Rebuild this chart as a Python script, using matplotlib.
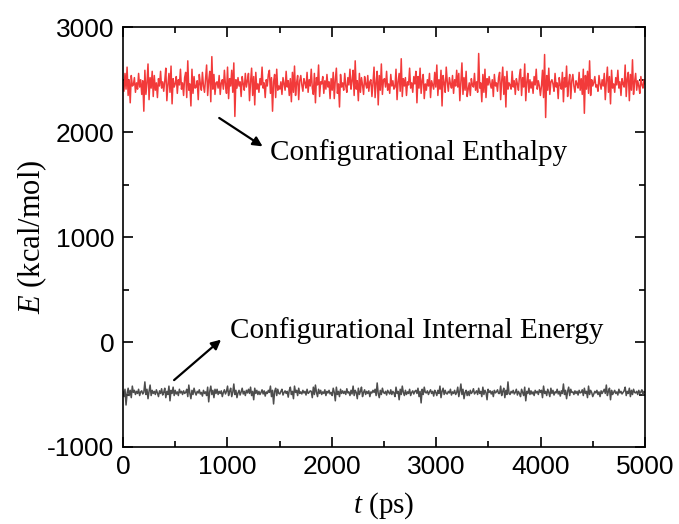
import matplotlib.pyplot as plt
import numpy as np
from matplotlib.ticker import MultipleLocator

plt.rcParams['mathtext.fontset'] = 'custom'
plt.rcParams['mathtext.it'] = 'Liberation Serif:italic'
plt.rcParams['mathtext.rm'] = 'Liberation Serif'
plt.rcParams['axes.unicode_minus'] = False

# configurational enthalpy (kcal/mol)
enthalpy = [
    2480, 2390, 2560, 2410, 2620, 2350, 2500, 2280, 2540, 2440,
    2450, 2520, 2380, 2470, 2410, 2560, 2430, 2500, 2360, 2490,
    2200, 2590, 2360, 2470, 2650, 2310, 2520, 2420, 2580, 2340,
    2540, 2400, 2470, 2330, 2510, 2440, 2580, 2420, 2480, 2390,
    2490, 2610, 2300, 2450, 2560, 2380, 2630, 2270, 2510, 2430,
    2460, 2530, 2370, 2500, 2450, 2600, 2410, 2470, 2350, 2520,
    2570, 2330, 2680, 2400, 2460, 2250, 2600, 2370, 2530, 2420,
    2430, 2490, 2310, 2550, 2460, 2400, 2570, 2440, 2380, 2510,
    2640, 2350, 2490, 2580, 2290, 2720, 2410, 2550, 2360, 2470,
    2480, 2420, 2540, 2360, 2470, 2500, 2410, 2590, 2450, 2370,
    2620, 2320, 2510, 2440, 2590, 2380, 2660, 2150, 2500, 2420,
    2520, 2440, 2480, 2340, 2530, 2460, 2400, 2560, 2430, 2490,
    2560, 2300, 2480, 2610, 2350, 2530, 2260, 2570, 2410, 2460,
    2380, 2510, 2450, 2620, 2420, 2470, 2330, 2500, 2440, 2550,
    2590, 2370, 2520, 2200, 2480, 2550, 2330, 2600, 2400, 2440,
    2410, 2480, 2360, 2520, 2460, 2400, 2580, 2430, 2490, 2350,
    2510, 2290, 2570, 2380, 2630, 2350, 2470, 2540, 2310, 2490,
    2540, 2450, 2390, 2510, 2470, 2420, 2570, 2380, 2500, 2440,
    2600, 2420, 2360, 2560, 2280, 2520, 2450, 2640, 2340, 2480,
    2460, 2530, 2370, 2490, 2410, 2550, 2430, 2480, 2320, 2510,
    2400, 2570, 2320, 2500, 2610, 2370, 2460, 2240, 2550, 2430,
    2470, 2400, 2560, 2440, 2380, 2520, 2450, 2600, 2410, 2490,
    2590, 2350, 2680, 2410, 2490, 2300, 2560, 2380, 2520, 2450,
    2360, 2530, 2460, 2420, 2540, 2390, 2480, 2500, 2340, 2470,
    2620, 2330, 2470, 2580, 2260, 2540, 2400, 2650, 2360, 2500,
    2510, 2430, 2580, 2400, 2460, 2370, 2550, 2440, 2490, 2410,
    2430, 2600, 2310, 2480, 2560, 2390, 2700, 2340, 2510, 2440,
    2520, 2350, 2480, 2450, 2610, 2420, 2470, 2380, 2530, 2460,
    2580, 2280, 2530, 2420, 2610, 2370, 2490, 2550, 2320, 2460,
    2400, 2500, 2440, 2560, 2330, 2490, 2450, 2410, 2570, 2430,
    2640, 2350, 2500, 2410, 2590, 2250, 2540, 2470, 2380, 2620,
    2480, 2390, 2520, 2460, 2420, 2540, 2370, 2500, 2440, 2590,
    2430, 2560, 2300, 2490, 2660, 2360, 2520, 2400, 2580, 2340,
    2410, 2470, 2350, 2510, 2450, 2430, 2560, 2400, 2480, 2380,
    2750, 2420, 2470, 2290, 2550, 2380, 2600, 2330, 2510, 2450,
    2530, 2460, 2420, 2500, 2340, 2550, 2440, 2470, 2390, 2520,
    2570, 2310, 2490, 2620, 2360, 2530, 2240, 2580, 2410, 2470,
    2450, 2410, 2580, 2430, 2490, 2360, 2510, 2460, 2400, 2540,
    2600, 2350, 2520, 2430, 2650, 2300, 2480, 2560, 2380, 2500,
    2420, 2480, 2370, 2530, 2450, 2600, 2410, 2490, 2440, 2350,
    2440, 2590, 2330, 2740, 2140, 2540, 2400, 2610, 2360, 2480,
    2500, 2460, 2390, 2560, 2430, 2470, 2320, 2520, 2450, 2410,
    2570, 2290, 2520, 2430, 2630, 2340, 2470, 2550, 2320, 2490,
    2550, 2440, 2380, 2490, 2460, 2420, 2570, 2400, 2510, 2360,
    2600, 2180, 2540, 2410, 2580, 2370, 2680, 2350, 2500, 2440,
    2470, 2530, 2430, 2450, 2390, 2540, 2460, 2410, 2500, 2440,
    2560, 2310, 2480, 2620, 2380, 2530, 2270, 2590, 2420, 2460,
    2380, 2520, 2450, 2590, 2420, 2480, 2350, 2510, 2460, 2430,
    2640, 2340, 2510, 2570, 2300, 2550, 2400, 2690, 2360, 2480,
    2560, 2400, 2490, 2440, 2370, 2530, 2450, 2420, 2500, 2460,
]

# configurational internal energy (kcal/mol)
internal = [
    -470, -520, -450, -600, -490, -440, -510, -460, -530, -420,
    -480, -460, -500, -470, -490, -450, -510, -475, -465, -495,
    -480, -380, -500, -450, -540, -470, -410, -510, -460, -490,
    -470, -500, -455, -485, -520, -465, -490, -445, -505, -480,
    -440, -530, -470, -500, -420, -560, -460, -490, -430, -510,
    -460, -495, -475, -510, -450, -485, -470, -500, -465, -490,
    -480, -450, -520, -410, -490, -540, -460, -500, -440, -480,
    -505, -470, -485, -455, -495, -480, -515, -460, -490, -475,
    -510, -430, -570, -470, -420, -500, -460, -530, -450, -490,
    -450, -500, -470, -490, -465, -520, -480, -455, -495, -470,
    -420, -510, -470, -440, -520, -480, -400, -500, -460, -530,
    -485, -460, -505, -475, -440, -495, -470, -510, -460, -485,
    -450, -490, -430, -510, -470, -550, -440, -490, -460, -500,
    -470, -500, -480, -455, -495, -465, -515, -475, -490, -460,
    -480, -420, -520, -460, -590, -470, -440, -510, -450, -490,
    -495, -470, -450, -505, -480, -465, -490, -470, -525, -460,
    -430, -500, -470, -540, -420, -480, -460, -510, -440, -490,
    -475, -495, -460, -485, -470, -505, -450, -490, -480, -465,
    -470, -530, -430, -500, -410, -480, -520, -450, -490, -460,
    -500, -475, -490, -455, -510, -470, -485, -460, -495, -480,
    -510, -440, -480, -560, -430, -500, -470, -520, -450, -490,
    -465, -490, -470, -500, -445, -485, -475, -510, -460, -495,
    -420, -510, -460, -480, -540, -440, -500, -470, -430, -520,
    -480, -455, -500, -470, -490, -465, -520, -475, -485, -460,
    -480, -450, -510, -390, -490, -530, -460, -500, -440, -480,
    -490, -470, -505, -460, -480, -495, -455, -500, -470, -485,
    -520, -430, -490, -470, -550, -450, -500, -420, -480, -510,
    -460, -500, -475, -490, -450, -510, -480, -465, -495, -470,
    -460, -490, -440, -520, -470, -580, -450, -500, -430, -480,
    -485, -465, -500, -475, -455, -490, -470, -515, -460, -480,
    -510, -460, -490, -420, -530, -470, -440, -500, -460, -490,
    -495, -470, -485, -450, -505, -475, -490, -460, -500, -480,
    -430, -520, -470, -400, -500, -450, -540, -480, -460, -510,
    -470, -510, -460, -490, -475, -445, -495, -480, -465, -500,
    -440, -490, -470, -520, -430, -500, -460, -480, -550, -450,
    -480, -465, -495, -470, -520, -460, -485, -475, -455, -490,
    -490, -420, -510, -470, -440, -530, -460, -500, -380, -490,
    -500, -470, -485, -460, -495, -480, -450, -505, -470, -490,
    -520, -450, -480, -510, -430, -560, -470, -490, -440, -500,
    -465, -495, -475, -510, -460, -485, -470, -500, -455, -480,
    -460, -530, -420, -490, -470, -510, -450, -480, -520, -440,
    -490, -460, -505, -475, -485, -450, -495, -470, -515, -465,
    -490, -400, -500, -460, -540, -470, -430, -510, -450, -480,
    -475, -500, -465, -490, -470, -505, -460, -485, -480, -455,
    -510, -440, -490, -470, -530, -420, -500, -460, -480, -520,
    -495, -470, -485, -460, -500, -475, -520, -465, -490, -470,
    -450, -490, -410, -510, -470, -440, -550, -460, -500, -480,
    -460, -490, -475, -505, -450, -485, -470, -495, -480, -465,
    -430, -510, -470, -490, -440, -520, -460, -500, -450, -480,
    -485, -470, -500, -460, -490, -475, -455, -505, -470, -480,
]

t_end = 5000
t = np.linspace(0, t_end, len(enthalpy))

serif = ['Liberation Serif', 'DejaVu Serif']
sans = ['Liberation Sans', 'DejaVu Sans']

fig = plt.figure(figsize=(6.79, 5.24), dpi=100)
ax = fig.add_axes([0.181, 0.147, 0.769, 0.801])

ax.plot(t, enthalpy, color='#f23a3a', lw=1.1)
ax.plot(t, internal, color='#4d4d4d', lw=1.1)

ax.set_xlim(0, 5000)
ax.set_ylim(-1000, 3000)
ax.xaxis.set_major_locator(MultipleLocator(1000))
ax.xaxis.set_minor_locator(MultipleLocator(500))
ax.yaxis.set_major_locator(MultipleLocator(1000))
ax.yaxis.set_minor_locator(MultipleLocator(500))
ax.tick_params(which='both', direction='in', top=True, right=True, width=1.2)
ax.tick_params(which='major', length=7, labelsize=19, pad=6)
ax.tick_params(which='minor', length=4)
for lab in ax.get_xticklabels() + ax.get_yticklabels():
    lab.set_family(sans)
for s in ax.spines.values():
    s.set_linewidth(1.2)

ax.set_xlabel(r'$t$ (ps)', fontsize=21, family=serif, labelpad=8)
ax.set_ylabel(r'$E$ (kcal/mol)', fontsize=22, family=serif, labelpad=-1)

ax.annotate('Configurational Enthalpy', xy=(1360, 1850), xytext=(1410, 1810),
            fontsize=21, family=serif, va='center', ha='left')
ax.annotate('', xy=(1360, 1850), xytext=(900, 2150),
            arrowprops=dict(arrowstyle='-|>', color='black', lw=1.6, mutation_scale=14))
ax.annotate('Configurational Internal Energy', xy=(1020, 110), xytext=(1030, 110),
            fontsize=21, family=serif, va='center', ha='left')
ax.annotate('', xy=(960, 40), xytext=(470, -380),
            arrowprops=dict(arrowstyle='-|>', color='black', lw=1.6, mutation_scale=14))

fig.savefig('out.png', dpi=100)
